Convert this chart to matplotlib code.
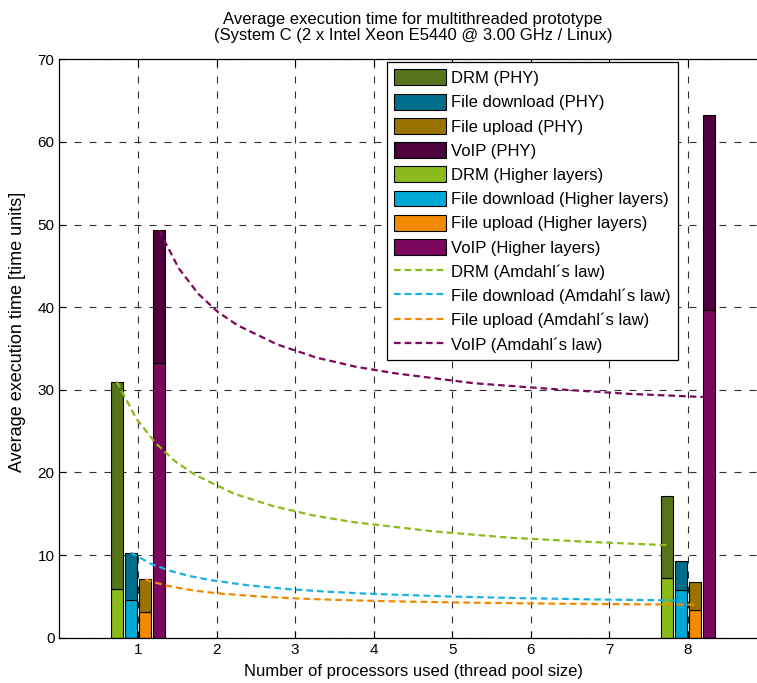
import numpy as np
import matplotlib
matplotlib.use("Agg")
from matplotlib import pyplot as plt
from matplotlib.patches import Patch
from matplotlib.lines import Line2D

plt.rcParams['font.family'] = ['Liberation Sans', 'DejaVu Sans']

# bar data (n = 1 and n = 8), stacked: higher layers at bottom, PHY on top
procs_bar = [1, 8]
drm_hl = [5.9, 7.2]
drm_phy = [25.1, 10.0]
dl_hl = [4.6, 5.8]
dl_phy = [5.7, 3.45]
ul_hl = [3.1, 3.3]
ul_phy = [3.95, 3.4]
voip_hl = [33.3, 39.7]
voip_phy = [16.0, 23.5]

# Amdahl's law curves
procs_curve = [1, 1.25, 1.5, 1.75, 2, 2.5, 3, 3.5, 4, 5, 6, 7, 8]
drm_amdahl = [31.0, 26.5, 23.5, 21.3, 19.7, 17.4, 15.9, 14.8, 14.0, 12.9, 12.1, 11.6, 11.2]
dl_amdahl = [10.3, 8.97, 8.09, 7.46, 6.99, 6.33, 5.88, 5.57, 5.33, 5.0, 4.78, 4.62, 4.5]
ul_amdahl = [7.05, 6.35, 5.89, 5.55, 5.31, 4.96, 4.72, 4.56, 4.43, 4.26, 4.14, 4.06, 4.0]
voip_amdahl = [49.3, 44.7, 41.6, 39.4, 37.8, 35.5, 33.9, 32.8, 32.0, 30.8, 30.1, 29.5, 29.1]

names = ["DRM", "File download", "File upload", "VoIP"]
col_phy = ["#56751a", "#006e8a", "#9a7200", "#4d003c"]
col_hl = ["#8bbb1a", "#00a8d6", "#f18a00", "#7b085c"]
col_line = ["#8bbb1a", "#1ab2e0", "#f18a00", "#7b085c"]
offsets = [-0.27, -0.09, 0.09, 0.27]
width = 0.15

fig = plt.figure(figsize=(7.57, 6.83), dpi=100)
ax = fig.add_axes([59.3 / 757, 1 - 637.7 / 683, 9 * 78.6 / 757, 578.4 / 683])

hl_all = [drm_hl, dl_hl, ul_hl, voip_hl]
phy_all = [drm_phy, dl_phy, ul_phy, voip_phy]
amd_all = [drm_amdahl, dl_amdahl, ul_amdahl, voip_amdahl]
x_bar = np.array(procs_bar, dtype=float)
x_curve = np.array(procs_curve, dtype=float)
for _i in range(4):
    ax.bar(x_bar + offsets[_i], hl_all[_i], width, color=col_hl[_i], edgecolor="black", linewidth=0.8, zorder=2)
    ax.bar(x_bar + offsets[_i], phy_all[_i], width, bottom=hl_all[_i], color=col_phy[_i],
           edgecolor="black", linewidth=0.8, zorder=2)
for _i in range(4):
    ax.plot(x_curve + offsets[_i], amd_all[_i], color=col_line[_i], lw=1.6, ls=(0, (3, 1.8)), zorder=3)

ax.set_xlim(0, 9)
ax.set_ylim(0, 70)
ax.set_xticks(range(1, 9))
ax.set_yticks(range(0, 71, 10))
ax.tick_params(direction="in", length=5, labelsize=11, top=True, right=True, width=0.8)
ax.grid(True, color="#303030", lw=0.8, ls=(0, (6.3, 7.2)), zorder=0)
ax.set_axisbelow(True)
for _s in ax.spines.values():
    _s.set_linewidth(0.9)

ax.set_xlabel("Number of processors used (thread pool size)", fontsize=12, labelpad=5)
ax.set_ylabel("Average execution time [time units]", fontsize=13)
ax.yaxis.set_label_coords(17.5 / 757, 1 - 332 / 683, transform=fig.transFigure)
ax.yaxis.label.set_va("center")
fig.text(413 / 757, 1 - 12 / 683,
         "Average execution time for multithreaded prototype\n(System C (2 x Intel Xeon E5440 @ 3.00 GHz / Linux)",
         ha="center", va="top", fontsize=12, linespacing=1.1)

handles = []
labels = []
for _i in range(4):
    handles.append(Patch(facecolor=col_phy[_i], edgecolor="black", linewidth=0.8))
    labels.append(names[_i] + " (PHY)")
for _i in range(4):
    handles.append(Patch(facecolor=col_hl[_i], edgecolor="black", linewidth=0.8))
    labels.append(names[_i] + " (Higher layers)")
for _i in range(4):
    handles.append(Line2D([], [], color=col_line[_i], lw=1.6, ls=(0, (3, 1.8))))
    labels.append(names[_i] + " (Amdahl\u00b4s law)")
leg = ax.legend(handles, labels, loc="upper right", bbox_to_anchor=(678 / 757, 1 - 62 / 683),
                bbox_transform=fig.transFigure, fontsize=12, frameon=True, fancybox=False,
                edgecolor="black", framealpha=1, borderaxespad=0, handlelength=3.1,
                handleheight=1.08, labelspacing=0.46, handletextpad=0.3, borderpad=0.45)
leg.get_frame().set_linewidth(0.9)
leg.set_zorder(5)

fig.savefig("out.png", dpi=100)
